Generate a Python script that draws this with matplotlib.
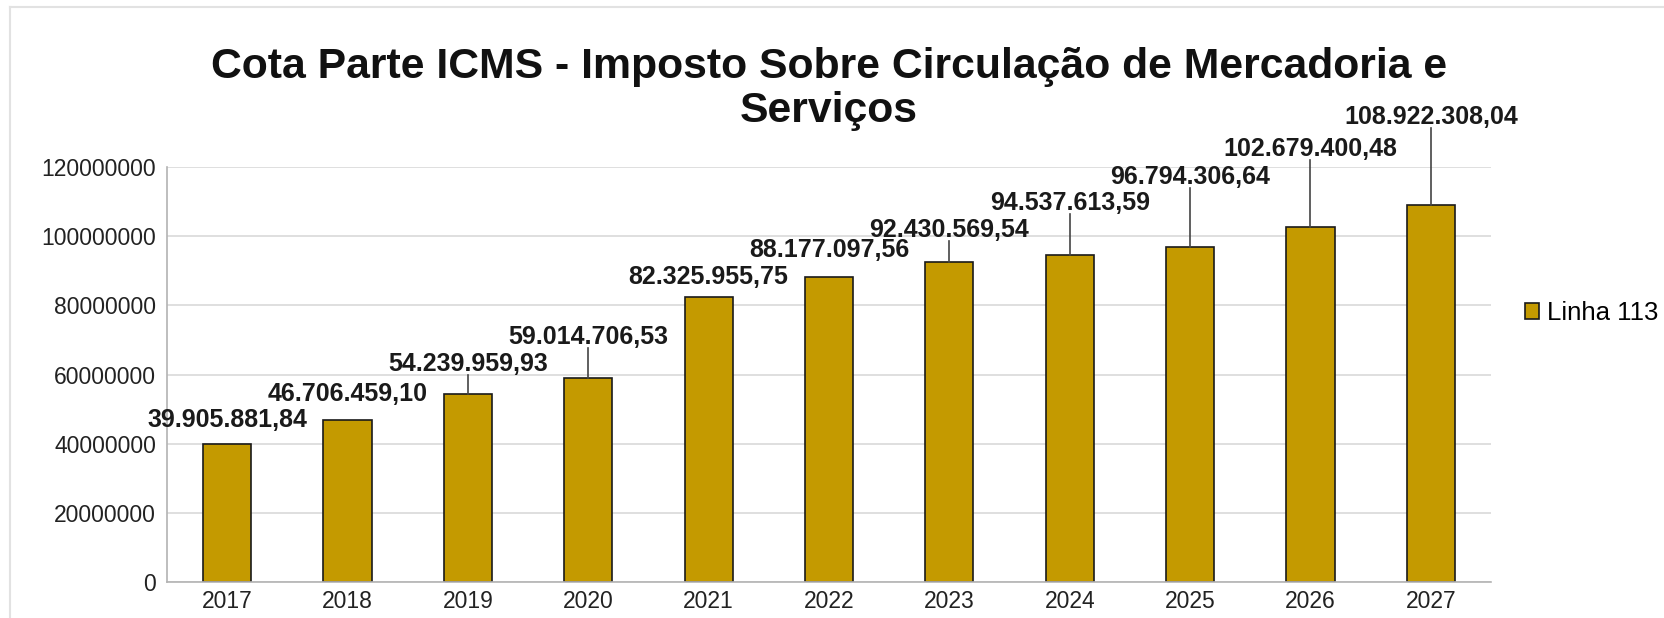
import numpy as np
import matplotlib.pyplot as plt
from matplotlib.lines import Line2D
from matplotlib.ticker import FuncFormatter

plt.rcParams['font.family'] = ['Liberation Sans', 'DejaVu Sans']

# dados
anos = ['2017', '2018', '2019', '2020', '2021', '2022', '2023', '2024', '2025', '2026', '2027']
valores = [39905881.84, 46706459.10, 54239959.93, 59014706.53, 82325955.75, 88177097.56,
           92430569.54, 94537613.59, 96794306.64, 102679400.48, 108922308.04]

# onde ficam os rotulos (centro, em unidades do eixo y) - empurrados pra cima pra nao encavalar
rotulo_y = [46.8e6, 54.4e6, 63.0e6, 70.8e6, 88.2e6, 96.0e6, 101.8e6, 109.6e6, 117.1e6, 125.2e6, 134.5e6]

cor_barra = '#C49A00'

def fmt_br(v):
    s = f"{v:,.2f}"
    return s.replace(',', '#').replace('.', ',').replace('#', '.')

fig = plt.figure(figsize=(16.64, 6.18), dpi=100)
ax = fig.add_axes([167/1664, 1-582/618, 1324/1664, 415/618])

x = np.arange(len(anos))
ax.bar(x, valores, width=0.4, color=cor_barra, edgecolor='#1a1a1a', lw=1.2, zorder=2)

ax.set_xlim(-0.5, len(anos)-0.5)
ax.set_ylim(0, 120000000)
ax.set_yticks(np.arange(0, 120000001, 20000000))
ax.yaxis.set_major_formatter(FuncFormatter(lambda v, p: f"{int(v)}"))
ax.set_xticks(x)
ax.set_xticklabels(anos)
ax.tick_params(axis='both', length=0, labelsize=16.5, colors='#222222')
ax.tick_params(axis='y', pad=8)
ax.tick_params(axis='x', pad=6)
ax.grid(axis='y', color='#d9d9d9', lw=1.2)
ax.set_axisbelow(True)
for s in ['top', 'right']:
    ax.spines[s].set_visible(False)
ax.spines['left'].set_color('#b3b3b3')
ax.spines['bottom'].set_color('#b3b3b3')
ax.spines['left'].set_linewidth(1.2)
ax.spines['bottom'].set_linewidth(1.2)

# rotulos + linhas guia
meia_altura = 3.2e6
for xi, v, ly in zip(x, valores, rotulo_y):
    ax.text(xi, ly, fmt_br(v), ha='center', va='center', fontsize=18,
            fontweight='bold', color='#1a1a1a')
    if ly - meia_altura - v > 5e6:
        ax.plot([xi, xi], [v, ly - meia_altura], color='#444444', lw=1.2, clip_on=False, zorder=3)

fig.text(0.498, 1-67/618, 'Cota Parte ICMS - Imposto Sobre Circulação de Mercadoria e',
         ha='center', va='center', fontsize=30.8, fontweight='bold', color='#111111')
fig.text(0.498, 1-111/618, 'Serviços',
         ha='center', va='center', fontsize=30.8, fontweight='bold', color='#111111')

handle = plt.Rectangle((0, 0), 1, 1, facecolor=cor_barra, edgecolor='#1a1a1a', lw=1.2)
fig.legend([handle], ['Linha 113'], loc='center left', bbox_to_anchor=(1525/1664, 1-313/618),
           frameon=False, fontsize=18.5, handlelength=0.55, handleheight=0.55, handletextpad=0.3,
           borderaxespad=0, borderpad=0)

# moldura clara em cima e a esquerda
fig.add_artist(Line2D([10/1664, 1], [1-7/618, 1-7/618], color='#e2e2e2', lw=1.5))
fig.add_artist(Line2D([10/1664, 10/1664], [0, 1-7/618], color='#e2e2e2', lw=1.5))

plt.savefig('out.png', dpi=100)
